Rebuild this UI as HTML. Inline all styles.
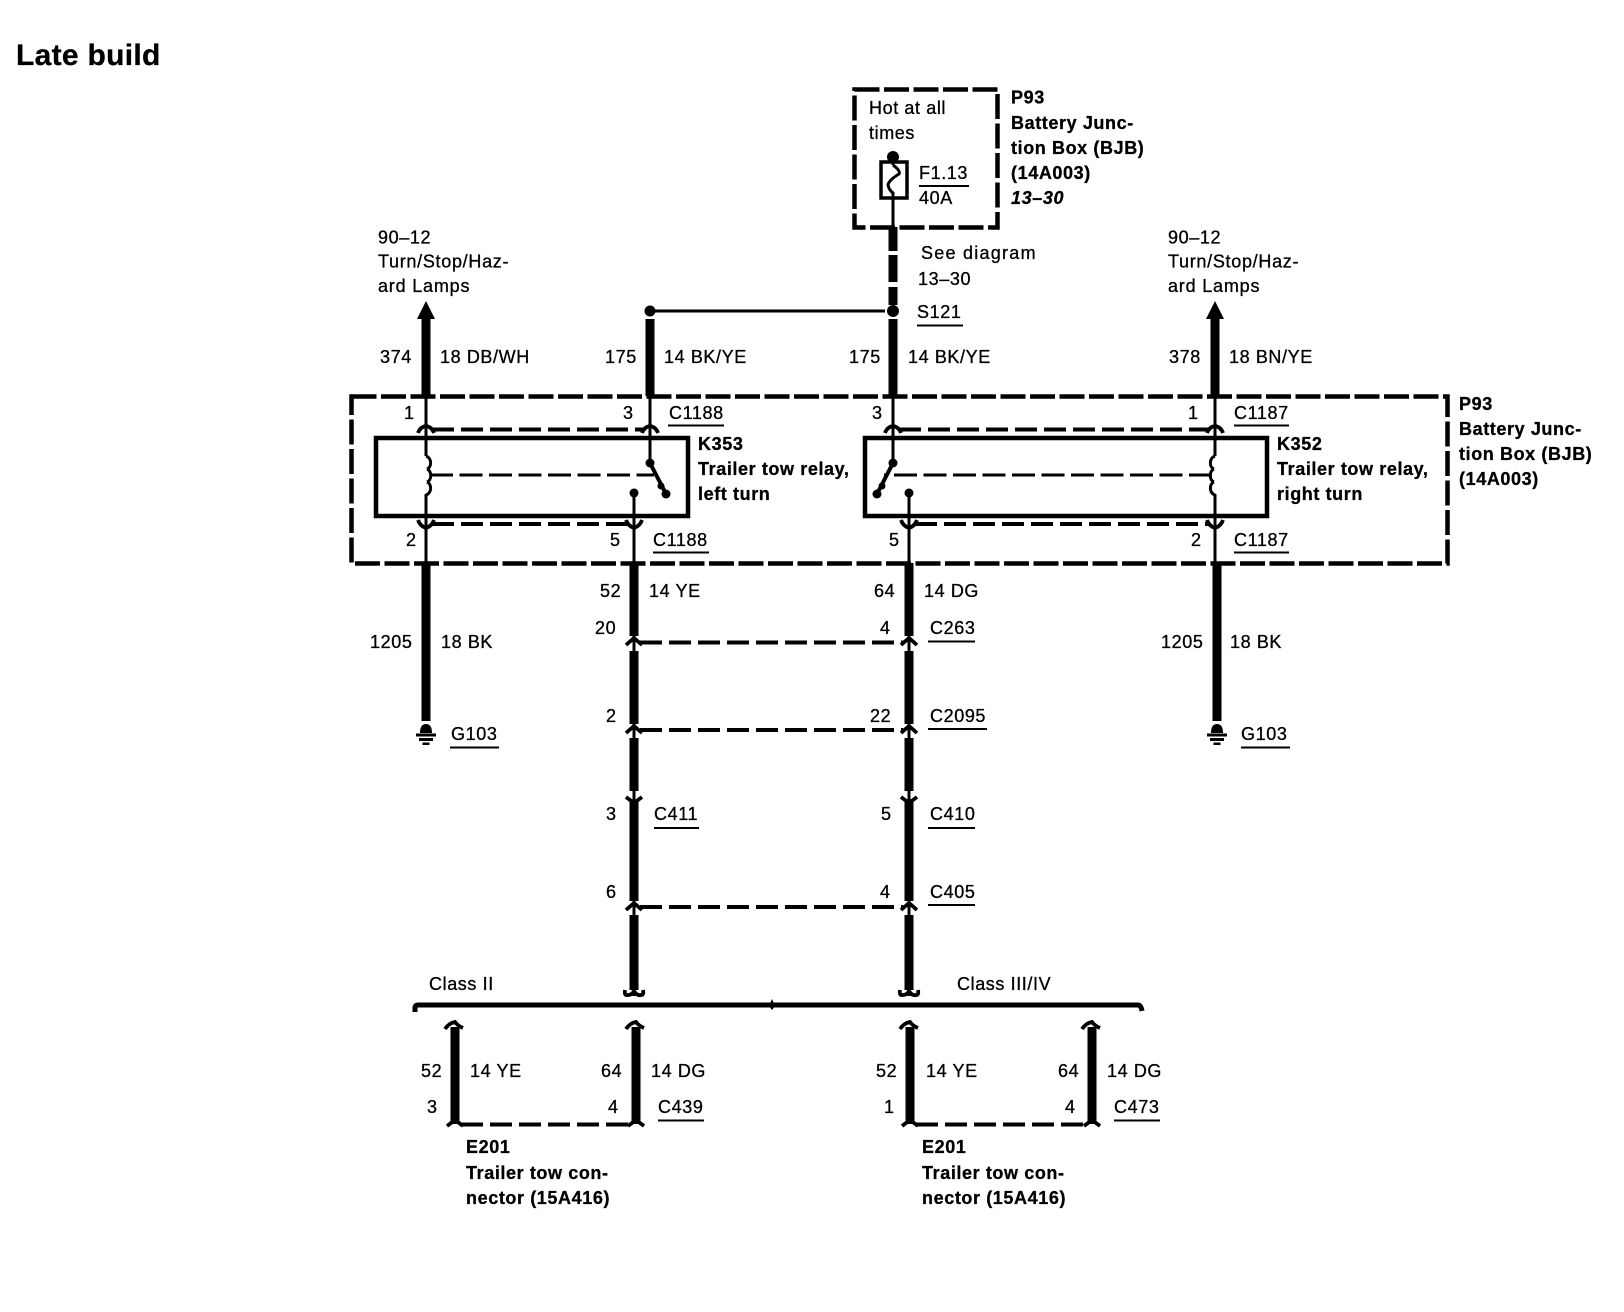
<!DOCTYPE html>
<html><head><meta charset="utf-8"><title>Late build</title>
<style>
html,body{margin:0;padding:0;background:#fff}
svg{display:block}
text{font-family:"Liberation Sans",sans-serif;font-size:18px;fill:#000;stroke:#000;stroke-width:.3;letter-spacing:.6px}
.b{font-weight:bold}
.bi{font-weight:bold;font-style:italic}
.t{font-weight:bold;font-size:30px;letter-spacing:.3px}
</style></head><body>
<svg width="1624" height="1312" viewBox="0 0 1624 1312" xmlns="http://www.w3.org/2000/svg">
<rect width="1624" height="1312" fill="#fff"/>
<text class="t" x="16" y="65">Late build</text>

<!-- outer dashed boxes -->
<g fill="none" stroke="#000">
<rect x="351.5" y="396.5" width="1096" height="167" stroke-width="4.5" stroke-dasharray="25 4.5" stroke-linecap="butt"/>
<rect x="854.5" y="89.5" width="143" height="138" stroke-width="4.5" stroke-dasharray="25 4.5"/>
<!-- relays -->
<rect x="376" y="438" width="312" height="78" stroke-width="4.5"/>
<rect x="865" y="438" width="402" height="78" stroke-width="4.5"/>
</g>

<!-- thick wires -->
<g fill="none" stroke="#000" stroke-width="9">
<path d="M426 316V396M650 319V396M893 319V396M1215 316V396"/>
<path d="M893 227V251M893 255V282M893 287V305"/>
<path d="M426 563V721M1217 563V721"/>
<path d="M634 563V636M634 651V724M634 738V791M634 801V901M634 915V990"/>
<path d="M909 563V636M909 651V724M909 738V791M909 801V901M909 915V990"/>
<path d="M455 1027V1124M636 1027V1124M910 1027V1124M1092 1027V1124"/>
</g>

<!-- thin wires -->
<g fill="none" stroke="#000" stroke-width="3">
<path d="M426 396V456M426 494V563M1215 396V456M1215 494V563"/>
<path d="M650 396V463M893 396V463"/>
<path d="M634 493V563M909 493V563"/>
<path d="M634 636V651M634 724V738M634 791V801M634 901V915M634 987V996"/>
<path d="M909 636V651M909 724V738M909 791V801M909 901V915M909 987V996"/>
<path d="M893 198V227M893 157V165M654 311H885"/>
<!-- coils -->
<path d="M426 456C432 458 432 467 427 469M427 469C432 471 432 480 427 482M427 482C432 484 432 493 426 495"/>
<path d="M1215 456C1209 458 1209 467 1214 469M1214 469C1209 471 1209 480 1214 482M1214 482C1209 484 1209 493 1215 495"/>
</g>

<!-- switches -->
<g fill="none" stroke="#000" stroke-width="4">
<path d="M650 463L666 494M893 463L877 494"/>
</g>
<g fill="#000">
<circle cx="650" cy="463" r="4.5"/><circle cx="661" cy="486" r="3.5"/><circle cx="666" cy="494" r="4.5"/>
<circle cx="893" cy="463" r="4.5"/><circle cx="882" cy="486" r="3.5"/><circle cx="877" cy="494" r="4.5"/>
<circle cx="634" cy="493" r="4.5"/><circle cx="909" cy="493" r="4.5"/>
<circle cx="650" cy="311" r="5.5"/><circle cx="893" cy="311" r="6"/><circle cx="893" cy="157" r="6"/>
<polygon points="426,301 417,319 435,319"/><polygon points="1215,301 1206,319 1224,319"/>
</g>

<!-- dashed links -->
<g fill="none" stroke="#000" stroke-width="4" stroke-dasharray="22 7">
<path d="M432 429.5H644M899 429.5H1209M432 524H628M915 524H1209"/>
<path d="M640 642.5H903M640 730H903M640 907H903"/>
<path d="M461 1124.5H630M916 1124.5H1086"/>
</g>
<g fill="none" stroke="#000" stroke-width="3" stroke-dasharray="23 6.5">
<path d="M430 475H654M1212 475H884"/>
</g>

<!-- connector chevrons -->
<g fill="none" stroke="#000" stroke-width="3.8">
<path d="M418 433Q420 427 426 426Q432 427 434 433M642 433Q644 427 650 426Q656 427 658 433M885 433Q887 427 893 426Q899 427 901 433M1207 433Q1209 427 1215 426Q1221 427 1223 433"/>
<path d="M418 520Q420 526 426 528Q432 526 434 520M626 520Q628 526 634 528Q640 526 642 520M901 520Q903 526 909 528Q915 526 917 520M1207 520Q1209 526 1215 528Q1221 526 1223 520"/>
<path d="M626 645L634 638L642 645M901 645L909 638L917 645M626 733L634 726L642 733M901 733L909 726L917 733M626 910L634 903L642 910M901 910L909 903L917 910"/>
<path d="M626 797L634 803L642 797M901 797L909 803L917 797"/>
<path d="M625 990Q624 996 628 995Q632 995 634 991Q637 996 641 995Q644 995 643 990M900 990Q899 996 903 995Q907 995 909 991Q912 996 916 995Q919 995 918 990"/>
<path d="M445 1029Q449 1023 455 1022Q458 1026 463 1028M626 1029Q630 1023 636 1022Q639 1026 644 1028M900 1029Q904 1023 910 1022Q913 1026 918 1028M1082 1029Q1086 1023 1092 1022Q1095 1026 1100 1028"/>
<path d="M447 1126L455 1120L463 1126M628 1126L636 1120L644 1126M902 1126L910 1120L918 1126M1084 1126L1092 1120L1100 1126"/>
</g>

<!-- class bar -->
<path d="M415 1012V1008Q415 1005 418 1005H1138Q1141 1005 1142 1011" fill="none" stroke="#000" stroke-width="5"/>
<path d="M772 999L769 1006L772 1010L775 1006Z" fill="#000"/>

<!-- fuse -->
<rect x="881" y="162" width="26" height="36" fill="none" stroke="#000" stroke-width="3.5"/>
<path d="M893 165Q901 171 899 174Q889 180 888 185Q889 190 893 193V198" fill="none" stroke="#000" stroke-width="3"/>

<!-- grounds -->
<g fill="#000">
<path d="M420 733Q420 724 426 724Q432 724 432 733Z"/><rect x="416" y="733.5" width="20" height="3"/><rect x="419" y="738" width="14" height="3"/><rect x="422.5" y="742.5" width="7" height="2.5"/>
<path d="M1211 733Q1211 724 1217 724Q1223 724 1223 733Z"/><rect x="1207" y="733.5" width="20" height="3"/><rect x="1210" y="738" width="14" height="3"/><rect x="1213.5" y="742.5" width="7" height="2.5"/>
</g>

<!-- underlines -->
<g stroke="#000" stroke-width="2" fill="none">
<path d="M919 186H969M917 325.5H963"/>
<path d="M668 425.5H724M1234 425.5H1289M653 552.5H709M1234 552.5H1289"/>
<path d="M928 641.5H975M928 729H987M654 828H699M928 828H975M928 905H975"/>
<path d="M450 747.5H499M1241 747.5H1290"/>
<path d="M658 1120.5H704M1114 1120.5H1160"/>
</g>

<!-- fuse box text -->
<text x="869" y="114">Hot at all</text>
<text x="869" y="139">times</text>
<text x="919" y="179">F1.13</text>
<text x="919" y="204">40A</text>
<text class="b" x="1011" y="103.5">P93</text>
<text class="b" x="1011" y="129">Battery Junc-</text>
<text class="b" x="1011" y="154">tion Box (BJB)</text>
<text class="b" x="1011" y="179">(14A003)</text>
<text class="bi" x="1011" y="204">13–30</text>
<text x="921" y="259" style="letter-spacing:1.25px">See diagram</text>
<text x="918" y="285">13–30</text>
<text x="917" y="318">S121</text>

<!-- top left/right -->
<text x="378" y="243.5">90–12</text>
<text x="378" y="267.5" style="letter-spacing:.7px">Turn/Stop/Haz-</text>
<text x="378" y="292" style="letter-spacing:.8px">ard Lamps</text>
<text x="1168" y="243.5">90–12</text>
<text x="1168" y="267.5" style="letter-spacing:.7px">Turn/Stop/Haz-</text>
<text x="1168" y="292" style="letter-spacing:.8px">ard Lamps</text>

<text x="380" y="363">374</text><text x="440" y="363">18 DB/WH</text>
<text x="605" y="363">175</text><text x="664" y="363">14 BK/YE</text>
<text x="849" y="363">175</text><text x="908" y="363">14 BK/YE</text>
<text x="1169" y="363">378</text><text x="1229" y="363">18 BN/YE</text>

<!-- relay pins -->
<text x="404" y="419">1</text><text x="623" y="419">3</text><text x="669" y="419">C1188</text>
<text x="872" y="419">3</text><text x="1188" y="419">1</text><text x="1234" y="419">C1187</text>
<text x="406" y="546">2</text><text x="610" y="546">5</text><text x="653" y="546">C1188</text>
<text x="889" y="546">5</text><text x="1191" y="546">2</text><text x="1234" y="546">C1187</text>

<text class="b" x="698" y="450">K353</text>
<text class="b" x="698" y="475">Trailer tow relay,</text>
<text class="b" x="698" y="500">left turn</text>
<text class="b" x="1277" y="450">K352</text>
<text class="b" x="1277" y="475">Trailer tow relay,</text>
<text class="b" x="1277" y="500">right turn</text>
<text class="b" x="1459" y="410">P93</text>
<text class="b" x="1459" y="435">Battery Junc-</text>
<text class="b" x="1459" y="460">tion Box (BJB)</text>
<text class="b" x="1459" y="485">(14A003)</text>

<!-- mid -->
<text x="600" y="597">52</text><text x="649" y="597">14 YE</text>
<text x="874" y="597">64</text><text x="924" y="597">14 DG</text>
<text x="370" y="648">1205</text><text x="441" y="648">18 BK</text>
<text x="1161" y="648">1205</text><text x="1230" y="648">18 BK</text>
<text x="451" y="740">G103</text><text x="1241" y="740">G103</text>

<text x="595" y="634">20</text><text x="880" y="634">4</text><text x="930" y="634">C263</text>
<text x="606" y="722">2</text><text x="870" y="722">22</text><text x="930" y="722">C2095</text>
<text x="606" y="820">3</text><text x="654" y="820">C411</text><text x="881" y="820">5</text><text x="930" y="820">C410</text>
<text x="606" y="898">6</text><text x="880" y="898">4</text><text x="930" y="898">C405</text>

<!-- bottom -->
<text x="429" y="990">Class II</text>
<text x="957" y="990">Class III/IV</text>
<text x="421" y="1077">52</text><text x="470" y="1077">14 YE</text>
<text x="601" y="1077">64</text><text x="651" y="1077">14 DG</text>
<text x="427" y="1113">3</text><text x="608" y="1113">4</text><text x="658" y="1113">C439</text>
<text x="876" y="1077">52</text><text x="926" y="1077">14 YE</text>
<text x="1058" y="1077">64</text><text x="1107" y="1077">14 DG</text>
<text x="884" y="1113">1</text><text x="1065" y="1113">4</text><text x="1114" y="1113">C473</text>
<text class="b" x="466" y="1153">E201</text>
<text class="b" x="466" y="1179">Trailer tow con-</text>
<text class="b" x="466" y="1204">nector (15A416)</text>
<text class="b" x="922" y="1153">E201</text>
<text class="b" x="922" y="1179">Trailer tow con-</text>
<text class="b" x="922" y="1204">nector (15A416)</text>
</svg>
</body></html>
